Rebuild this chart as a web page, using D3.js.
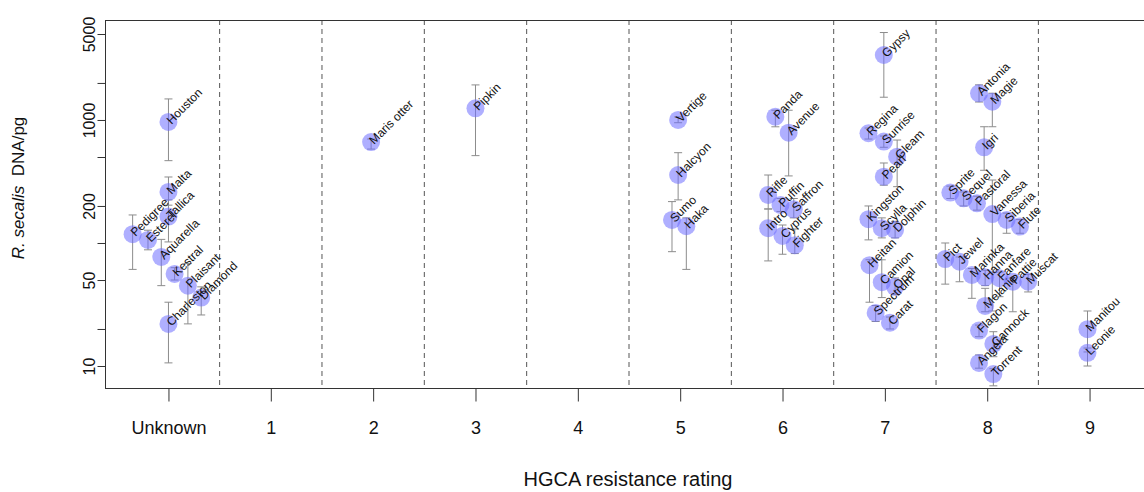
<!DOCTYPE html>
<html>
<head>
<meta charset="utf-8">
<script src="https://cdn.jsdelivr.net/npm/d3@7"></script>
<style>
  html, body { margin: 0; padding: 0; background: #fff; }
  svg { display: block; font-family: "Liberation Sans", Arial, sans-serif; }
</style>
</head>
<body>
<svg id="chart" width="1144" height="492"></svg>
<script>
// Resistance rating categories along the x axis
const categories = ["Unknown", "1", "2", "3", "4", "5", "6", "7", "8", "9"];
const yTickValues = [10, 20, 50, 100, 200, 500, 1000, 2000, 5000];
const yTickLabels = ["10", "", "50", "", "200", "", "1000", "", "5000"];

// Variety, rating index, horizontal jitter (in category units),
// mean DNA/pg, lower and upper error-bar ends
const variety = ["Houston","Malta","Pedigree","Esterel","Tallica","Aquarella","Kestral","Plaisant","Diamond","Charleston",
  "Maris otter","Pipkin",
  "Vertige","Halcyon","Sumo","Haka",
  "Panda","Avenue","Rifle","Puffin","Saffron","Intro","Cyprus","Fighter",
  "Gypsy","Regina","Sunrise","Gleam","Pearl","Kingston","Scylla","Dolphin","Heitan","Camion","Opal","Spectrum","Carat",
  "Antonia","Magie","Igri","Sprite","Sequel","Pastoral","Vanessa","Siberia","Flute","Pict","Jewel","Marinka","Hanna","Fanfare","Melanie","Pattie","Muscat","Flagon","Cannock","Angela","Torrent",
  "Manitou","Leonie"];
const rating = [0,0,0,0,0,0,0,0,0,0,
  2,3,
  5,5,5,5,
  6,6,6,6,6,6,6,6,
  7,7,7,7,7,7,7,7,7,7,7,7,7,
  8,8,8,8,8,8,8,8,8,8,8,8,8,8,8,8,8,8,8,8,8,
  9,9];
const jitter = [0,0,-0.35,-0.2,0,-0.07,0.06,0.19,0.32,0,
  -0.02,0,
  -0.02,-0.02,-0.08,0.06,
  -0.07,0.06,-0.14,-0.02,0.11,-0.14,0,0.12,
  -0.01,-0.16,-0.01,0.12,-0.01,-0.16,-0.03,0.1,-0.15,-0.03,0.1,-0.09,0.05,
  -0.08,0.05,-0.03,-0.36,-0.23,-0.1,0.05,0.19,0.32,-0.41,-0.27,-0.15,-0.02,0.12,-0.02,0.25,0.4,-0.08,0.06,-0.08,0.06,
  -0.02,-0.02];
const dna = [964,260,118,106,164,77,56,45,36,22,
  662,1245,
  1000,357,154,137,
  1064,788,246,204,188,132,114,96,
  3375,780,667,503,346,156,132,128,66,48,44,27,22.5,
  1648,1409,600,257,231,210,172,154,136,74,70.5,55,52.6,51.7,30.8,48.4,48.4,19.4,15.1,10.6,8.6,
  19.9,12.8];
const dnaLow = [467,203,61,88,102,45,50,22,26,10.6,
  580,513,
  950,224,85,61,
  880,351,189,180,160,71.5,81,82,
  1531,700,600,287,295,106,110,110,33,36,38,23,20,
  1400,881,390,230,200,185,28,120,120,46.3,48.4,35.5,45,36.6,27.6,27.6,40,17.3,11.9,9.6,6.9,
  13,10];
const dnaHigh = [1483,344,169,127,224,107,63,68,44,33,
  700,1928,
  1060,542,217,160,
  1200,1200,357,230,230,189,140,130,
  5140,860,740,687,447,200,160,150,73,73,52,31,25,
  1930,1650,881,290,260,240,325,175,155,100,77,62,60,58,42.8,52,55.7,21.5,19,12.3,9.5,
  28,14];

const svg = d3.select("#chart");

const box = { left: 105, right: 1153, top: 20, bottom: 388 };

const x = d3.scaleLinear().domain([-0.62, 9.62]).range([box.left, box.right]);
const y = d3.scaleLog().domain([10, 5000]).range([366, 34]);

// Dashed separators between rating groups
const separators = d3.range(categories.length - 1).map(i => i + 0.5);
svg.append("g").selectAll("line").data(separators).join("line")
  .attr("x1", d => x(d)).attr("x2", d => x(d))
  .attr("y1", box.top).attr("y2", box.bottom)
  .attr("stroke", "#555").attr("stroke-width", 1)
  .attr("stroke-dasharray", "5,4");

// Plot frame
svg.append("rect")
  .attr("x", box.left + 0.5).attr("y", box.top + 0.5)
  .attr("width", box.right - box.left).attr("height", box.bottom - box.top)
  .attr("fill", "none").attr("stroke", "#333").attr("stroke-width", 1);

// Left axis with vertical tick labels
const yAxis = d3.axisLeft(y).tickValues(yTickValues)
  .tickFormat((d, i) => yTickLabels[i]).tickSize(8).tickPadding(6);
const gy = svg.append("g").attr("transform", `translate(${box.left + 0.5},0)`).call(yAxis);
gy.select(".domain").remove();
gy.selectAll(".tick line").attr("stroke", "#333");
gy.selectAll(".tick text")
  .attr("font-size", 16).attr("fill", "#111")
  .attr("text-anchor", "middle")
  .attr("x", 0).attr("y", 0).attr("dy", "0.35em")
  .attr("transform", "translate(-16,0) rotate(-90)");

// Bottom axis
const xAxis = d3.axisBottom(x).tickValues(d3.range(categories.length))
  .tickFormat(i => categories[i]).tickSize(13).tickPadding(20);
const gx = svg.append("g").attr("transform", `translate(0,${box.bottom + 0.5})`).call(xAxis);
gx.select(".domain").remove();
gx.selectAll(".tick line").attr("stroke", "#333");
gx.selectAll(".tick text").attr("font-size", 18).attr("fill", "#111");

// Axis titles
svg.append("text")
  .attr("x", 628).attr("y", 486)
  .attr("text-anchor", "middle").attr("font-size", 20).attr("fill", "#111")
  .text("HGCA resistance rating");

const yt = svg.append("text")
  .attr("transform", "translate(24,188) rotate(-90)")
  .attr("text-anchor", "middle").attr("font-size", 17).attr("fill", "#111");
yt.append("tspan").attr("font-style", "italic").text("R. secalis");
yt.append("tspan").text("\u00a0\u00a0DNA/pg");

// Point records built from the arrays
const points = variety.map((name, i) => ({
  name, cx: x(rating[i] + jitter[i]),
  cy: y(dna[i]), lo: y(dnaLow[i]), hi: y(dnaHigh[i])
}));

// Error bars
const eb = svg.append("g").attr("stroke", "#8c8c8c").attr("stroke-width", 1).attr("fill", "none");
points.forEach(p => {
  eb.append("line").attr("x1", p.cx).attr("x2", p.cx).attr("y1", p.hi).attr("y2", p.lo);
  eb.append("line").attr("x1", p.cx - 4).attr("x2", p.cx + 4).attr("y1", p.hi).attr("y2", p.hi);
  eb.append("line").attr("x1", p.cx - 4).attr("x2", p.cx + 4).attr("y1", p.lo).attr("y2", p.lo);
});

// Mean markers
svg.append("g").selectAll("circle").data(points).join("circle")
  .attr("cx", d => d.cx).attr("cy", d => d.cy).attr("r", 9)
  .attr("fill", "rgb(110,110,255)").attr("fill-opacity", 0.55);

// Variety names, slanted upward from each marker
svg.append("g").selectAll("text").data(points).join("text")
  .attr("transform", d => `translate(${d.cx},${d.cy}) rotate(-45)`)
  .attr("dy", "0.35em")
  .attr("font-size", 12).attr("fill", "#111")
  .text(d => d.name);
</script>
</body>
</html>
